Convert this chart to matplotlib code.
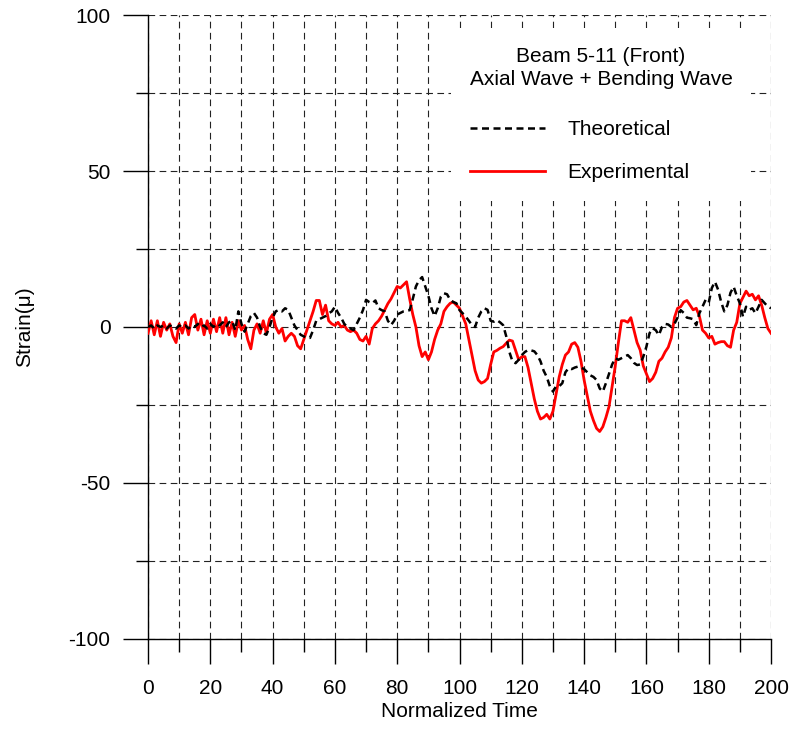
import matplotlib
matplotlib.use("Agg")
import matplotlib.pyplot as plt
import numpy as np
from matplotlib.ticker import MultipleLocator

plt.rcParams["font.family"] = ["Liberation Sans", "DejaVu Sans"]
plt.rcParams["axes.unicode_minus"] = False

# normalized time, one sample per unit
time = np.arange(0, 201)

experimental = [
    -2, 2, -2.5, 2, -3, 1.5, -1, 1, -3, -5,
    1, -2, 1.5, -2.5, 3, 4, -1, 2.5, -2.5, 2,
    -2, 2.5, -1.5, 3, -2, 3, -2.5, 1.5, -3, 2,
    -1, 0.5, -4, -7, -1, 1, -2, 2, -2, 2.5,
    4, 0, -2, -0.5, -4.5, -3, -2, -3, -6, -7,
    -4, -1, 2, 5, 8.5, 8.5, 4, 7, 2, 1,
    0.5, 1.5, 0, 0.5, -1, -1.5, -1, -2, -4, -4.5,
    -3, -5.5, -0.5, 1, 2, 3.5, 5.5, 7.5, 9, 11,
    13, 12.5, 13.5, 14.5, 9, 4, 0, -6, -9.5, -8,
    -10.5, -8, -4, -1, 1, 5, 6.5, 7.6, 8, 7,
    6, 3.5, 1, -4, -9, -14, -17, -18, -17.5, -16.5,
    -12, -8, -7.5, -6.8, -6.3, -5.2, -4.2, -4.5, -7.5, -10.5,
    -9.5, -9.5, -13, -18, -23, -27, -29.5, -29, -28, -29.5,
    -27, -21.5, -16, -12, -9, -8, -5.5, -5, -6.5, -11,
    -17, -22, -27, -30, -32.5, -33.5, -32, -29, -25.5, -19,
    -12.5, -5, 2, 2, 1.5, 3, -1, -5, -7.4, -12.5,
    -15, -17.5, -16.5, -14.5, -11, -10, -8, -6.5, -3.5, 3,
    6, 6.5, 8, 8.5, 7, 5.5, 6, 3.5, -1, -2,
    -3.5, -3, -5.5, -5, -4.7, -4.7, -6, -6.5, -1, 1.5,
    7.5, 9.5, 11.5, 10, 10.5, 8.7, 10, 7, 3, -0.5,
    -2,
]

theoretical = [
    0, 0.5, -0.5, 0.5, 0, 0.5, -0.5, 0.5, 0, -0.5,
    0.5, 0, 0.5, -0.5, 0.5, 0, 1, 0, 0.5, -0.5,
    1, 0, 1, 0.5, 1.5, 0, 1.5, 2, -1, 5,
    1, -1.5, 1, 3.5, 4.5, 3, 0, -2, -2.5, 0,
    3, 5, 5.5, 5, 6, 5.5, 3, 0.5, -1, -2.5,
    -3, -3.5, -3.5, -1, 2, 2.5, 3, 3.5, 4.4, 5,
    6.5, 4.5, 3, 1, 0, -0.5, -1, 1, 3, 5.4,
    8.7, 8, 7.6, 8.5, 6, 5.4, 5, 2, 0.6, 2,
    4, 4.5, 5, 5.2, 5.4, 9, 13, 15, 16, 13,
    10, 6, 3.5, 6, 9.7, 10.8, 10.5, 8.7, 8, 7.6,
    5.4, 4.4, 3.3, 2, 0.6, 0, 3, 5, 6, 5.5,
    2, 1.7, 2.2, 1.5, 0.6, -3, -8, -11, -11.6, -10.5,
    -9, -8, -7.4, -7.5, -7.8, -9, -11, -14, -16, -19,
    -20.7, -19, -19, -18, -14.5, -13.2, -13.5, -13, -12.7, -13,
    -13.5, -14.5, -15.5, -16, -17, -19.7, -20.7, -18, -15, -12,
    -10, -10.5, -10, -9.5, -9, -10, -11.5, -12.2, -12, -9.5,
    -6.3, -2, -0.4, -1, -2.6, 0, 1, 0.8, 0, 1,
    3, 5.4, 4.5, 3, 2.8, 2.5, 0.6, 4.4, 6.5, 8.7,
    7.8, 12.5, 14.5, 12, 8, 5, 7, 11, 12.9, 10,
    7.6, 3.3, 6.5, 5.5, 6, 4.4, 6.5, 8.7, 7.6, 6.5,
    6,
]

FONT_SIZE = 15

fig = plt.figure(figsize=(7.92, 7.29), dpi=100)
ax = fig.add_axes([0.1869, 0.1235, 0.7866, 0.8559])

ax.plot(time, experimental, color="red", linewidth=2.0, label="Experimental", zorder=3)
ax.plot(time, theoretical, color="black", linewidth=1.8, linestyle=(0, (2.8, 1.8)),
        label="Theoretical", zorder=4)

ax.set_xlim(0, 200)
ax.set_ylim(-100, 100)
ax.xaxis.set_major_locator(MultipleLocator(20))
ax.xaxis.set_minor_locator(MultipleLocator(10))
ax.yaxis.set_major_locator(MultipleLocator(50))
ax.yaxis.set_minor_locator(MultipleLocator(25))

ax.grid(True, which="both", color="#222222", linestyle=(0, (6, 4)), linewidth=0.8, zorder=1)
ax.set_axisbelow(True)

for side in ["top", "right"]:
    ax.spines[side].set_visible(False)
for side in ["left", "bottom"]:
    ax.spines[side].set_linewidth(1.0)

ax.tick_params(axis="both", which="major", direction="out", length=18, width=1.0,
               labelsize=FONT_SIZE)
ax.tick_params(axis="both", which="minor", direction="out", length=9, width=1.0)
ax.tick_params(axis="x", which="major", pad=11)
ax.tick_params(axis="y", which="major", pad=9)

ax.set_xlabel("Normalized Time", fontsize=FONT_SIZE, labelpad=3)
ax.set_ylabel("Strain(\u03bc)", fontsize=FONT_SIZE, labelpad=25)

handles, labels = ax.get_legend_handles_labels()
leg = ax.legend(
    handles[::-1], labels[::-1],
    title="Beam 5-11 (Front)\nAxial Wave + Bending Wave",
    title_fontsize=FONT_SIZE, fontsize=FONT_SIZE, alignment="left",
    loc="upper left", bbox_to_anchor=(0.486, 0.979),
    frameon=True, fancybox=False, edgecolor="none", facecolor="white", framealpha=1,
    handlelength=3.6, handletextpad=1.1, labelspacing=1.15,
    borderpad=0.9, borderaxespad=0,
)
leg.get_title().set_multialignment("center")
leg.get_title().set_linespacing(1.3)
leg.set_zorder(5)
leg._legend_box.sep = 22

fig.savefig("out.png", dpi=100)
